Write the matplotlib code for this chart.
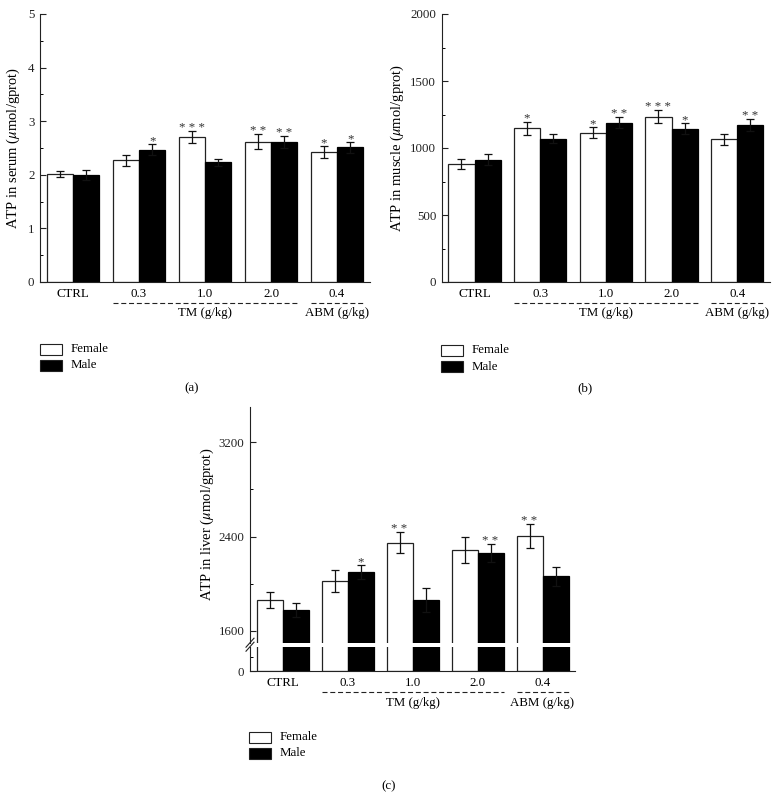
import numpy as np
import matplotlib
matplotlib.use('Agg')
import matplotlib.pyplot as plt
from matplotlib.patches import Rectangle
from matplotlib.lines import Line2D
from matplotlib.ticker import MultipleLocator, FixedLocator
import matplotlib.transforms as mtransforms

plt.rcParams['font.family'] = ['Liberation Serif', 'DejaVu Serif']
plt.rcParams['mathtext.fontset'] = 'stix'

groups = ['CTRL', '0.3', '1.0', '2.0', '0.4']

# (a) serum
serum_f = [2.01, 2.27, 2.70, 2.62, 2.42]
serum_f_err = [0.06, 0.10, 0.11, 0.14, 0.115]
serum_m = [2.00, 2.47, 2.23, 2.61, 2.51]
serum_m_err = [0.09, 0.105, 0.07, 0.105, 0.105]
serum_f_sig = ['', '', '* * *', '* *', '*']
serum_m_sig = ['', '*', '', '* *', '*']

# (b) muscle
muscle_f = [880, 1148, 1113, 1235, 1064]
muscle_f_err = [36, 48, 40, 47, 41]
muscle_m = [914, 1069, 1190, 1143, 1170]
muscle_m_err = [42, 35, 42, 42, 45]
muscle_f_sig = ['', '*', '*', '* * *', '']
muscle_m_sig = ['', '', '* *', '*', '* *']

# (c) liver
liver_f = [1860, 2021, 2349, 2284, 2403]
liver_f_err = [65, 95, 93, 108, 100]
liver_m = [1775, 2095, 1863, 2261, 2061]
liver_m_err = [62, 60, 100, 75, 82]
liver_f_sig = ['', '', '* *', '', '* *']
liver_m_sig = ['', '*', '', '* *', '']

W, H = 780, 792
fig = plt.figure(figsize=(W / 100, H / 100), dpi=100)
FS = 9.3
LFS = 10.5


def axes_px(x0, y0, x1, y1):
    return fig.add_axes([x0 / W, 1 - y1 / H, (x1 - x0) / W, (y1 - y0) / H])


def style(ax, bottom=True):
    for s in ['top', 'right']:
        ax.spines[s].set_visible(False)
    ax.spines['bottom'].set_visible(bottom)
    for s in ax.spines.values():
        s.set_linewidth(0.8)
        s.set_color('#222222')
    ax.tick_params(axis='y', which='major', direction='in', length=4, width=0.8,
                   labelsize=FS, pad=4, colors='#222222')
    ax.tick_params(axis='y', which='minor', direction='in', length=2.5, width=0.7)
    ax.tick_params(axis='x', length=0, labelsize=FS, pad=4)
    ax.set_xlim(-0.5, 4.5)


def bars(ax, f, fe, m, me, err=True):
    x = np.arange(len(groups))
    w = 0.4
    ekw = dict(ecolor='#111111', elinewidth=0.9, capsize=2.6, capthick=0.9)
    ax.bar(x - w / 2, f, w, yerr=fe if err else None, color='white',
           edgecolor='#222222', lw=0.9, error_kw=ekw)
    ax.bar(x + w / 2, m, w, yerr=me if err else None, color='black',
           edgecolor='black', lw=0.9, error_kw=ekw)


def stars(ax, f, fe, fs, m, me, ms):
    x = np.arange(len(groups))
    for i in range(len(groups)):
        if fs[i]:
            ax.annotate(fs[i], (x[i] - 0.2, f[i] + fe[i]), xytext=(0, 0),
                        textcoords='offset points', ha='center', va='baseline',
                        fontsize=FS, color='#333333')
        if ms[i]:
            ax.annotate(ms[i], (x[i] + 0.2, m[i] + me[i]), xytext=(0, 0),
                        textcoords='offset points', ha='center', va='baseline',
                        fontsize=FS, color='#333333')


def dose_labels(ax, y_line, y_text):
    tr = mtransforms.blended_transform_factory(ax.transData, fig.transFigure)
    ls = (0, (4.5, 2.5))
    ax.add_line(Line2D([0.6, 3.4], [1 - y_line / H] * 2, transform=tr, color='#222222',
                       lw=0.8, ls=ls, clip_on=False))
    ax.add_line(Line2D([3.6, 4.4], [1 - y_line / H] * 2, transform=tr, color='#222222',
                       lw=0.8, ls=ls, clip_on=False))
    ax.text(2.0, 1 - y_text / H, 'TM (g/kg)', transform=tr, ha='center', va='center',
            fontsize=FS)
    ax.text(4.0, 1 - y_text / H, 'ABM (g/kg)', transform=tr, ha='center', va='center',
            fontsize=FS)


def legend_px(x0, y0):
    for i, (lab, fc) in enumerate([('Female', 'white'), ('Male', 'black')]):
        yt = y0 + i * 16
        fig.patches.append(Rectangle((x0 / W, 1 - (yt + 11) / H), 22 / W, 11 / H,
                                     transform=fig.transFigure, fc=fc, ec='#222222', lw=0.8))
        fig.text((x0 + 31) / W, 1 - (yt + 5.5) / H, lab, va='center', ha='left', fontsize=FS)


def ylabel(ax, text, xfrac):
    ax.set_ylabel(text, fontsize=LFS)
    ax.yaxis.label.set_va('center')
    ax.yaxis.set_label_coords(xfrac, 0.5)


# ---- (a)
ax1 = axes_px(40, 14, 370, 282)
bars(ax1, serum_f, serum_f_err, serum_m, serum_m_err)
stars(ax1, serum_f, serum_f_err, serum_f_sig, serum_m, serum_m_err, serum_m_sig)
ax1.set_ylim(0, 5)
ax1.yaxis.set_major_locator(MultipleLocator(1))
ax1.yaxis.set_minor_locator(MultipleLocator(0.5))
style(ax1)
ax1.set_xticks(np.arange(5), groups)
ylabel(ax1, r'ATP in serum ($\mu$mol/gprot)', (13 - 40) / 330)
dose_labels(ax1, 302.7, 313.5)
legend_px(40, 344)
fig.text(192 / W, 1 - 388 / H, '(a)', ha='center', va='center', fontsize=FS)

# ---- (b)
ax2 = axes_px(441.7, 14, 770, 282)
bars(ax2, muscle_f, muscle_f_err, muscle_m, muscle_m_err)
stars(ax2, muscle_f, muscle_f_err, muscle_f_sig, muscle_m, muscle_m_err, muscle_m_sig)
ax2.set_ylim(0, 2000)
ax2.yaxis.set_major_locator(MultipleLocator(500))
ax2.yaxis.set_minor_locator(MultipleLocator(250))
style(ax2)
ax2.set_xticks(np.arange(5), groups)
ylabel(ax2, r'ATP in muscle ($\mu$mol/gprot)', (397 - 441.7) / 328.3)
dose_labels(ax2, 302.7, 313.5)
legend_px(441, 345)
fig.text(585 / W, 1 - 388 / H, '(b)', ha='center', va='center', fontsize=FS)

# ---- (c) broken axis
ax3 = axes_px(250, 407, 575, 642.7)
ax4 = axes_px(250, 646.7, 575, 671)
bars(ax3, liver_f, liver_f_err, liver_m, liver_m_err)
bars(ax4, liver_f, liver_f_err, liver_m, liver_m_err, err=False)
stars(ax3, liver_f, liver_f_err, liver_f_sig, liver_m, liver_m_err, liver_m_sig)
ax3.set_ylim(1498, 3500)
ax3.yaxis.set_major_locator(FixedLocator([1600, 2400, 3200]))
ax3.yaxis.set_minor_locator(FixedLocator([2000, 2800]))
style(ax3, bottom=False)
ax3.set_xticks([])
ax4.set_ylim(0, 700)
ax4.yaxis.set_major_locator(FixedLocator([0]))
ax4.yaxis.set_minor_locator(FixedLocator([400]))
style(ax4)
ax4.set_xticks(np.arange(5), groups)
ylabel(ax3, r'ATP in liver ($\mu$mol/gprot)', (207 - 250) / 325)
dose_labels(ax4, 691.7, 702.7)
legend_px(249, 732)
fig.text(389 / W, 1 - 786 / H, '(c)', ha='center', va='center', fontsize=FS)

# break marks on the y axis
for dy in (-2, 2):
    fig.add_artist(Line2D([246 / W, 254 / W], [1 - (644.7 + dy + 4.5) / H, 1 - (644.7 + dy - 4.5) / H],
                          transform=fig.transFigure, color='#222222', lw=0.8))

fig.savefig('out.png', dpi=100)
